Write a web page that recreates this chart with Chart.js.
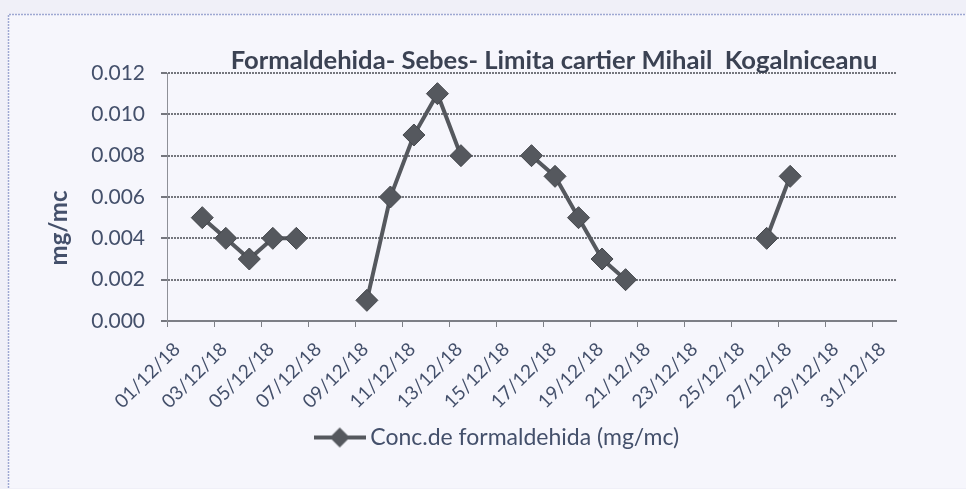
<!DOCTYPE html>
<html>
<head>
<meta charset="utf-8">
<script src="https://cdn.jsdelivr.net/npm/chart.js@4.4.0/dist/chart.umd.min.js"></script>
<style>
    html, body { margin: 0; padding: 0; background: #f0f0f8; }
    #wrap { width: 966px; height: 489px; }
</style>
</head>
<body>
<div id="wrap"><canvas id="chart" width="966" height="489"></canvas></div>
<script>
// zilele lunii (etichete axa X)
const dates = ['01/12/18', '02/12/18', '03/12/18', '04/12/18', '05/12/18', '06/12/18', '07/12/18', '08/12/18',
    '09/12/18', '10/12/18', '11/12/18', '12/12/18', '13/12/18', '14/12/18', '15/12/18', '16/12/18',
    '17/12/18', '18/12/18', '19/12/18', '20/12/18', '21/12/18', '22/12/18', '23/12/18', '24/12/18',
    '25/12/18', '26/12/18', '27/12/18', '28/12/18', '29/12/18', '30/12/18', '31/12/18'];

// concentratii (mg/mc), null = fara masuratoare
const conc = [null, 0.005, 0.004, 0.003, 0.004, 0.004, null, null,
    0.001, 0.006, 0.009, 0.011, 0.008, null, null, 0.008,
    0.007, 0.005, 0.003, 0.002, null, null, null, null,
    null, 0.004, 0.007, null, null, null, null];

const yTicks = [0, 0.002, 0.004, 0.006, 0.008, 0.010, 0.012];

const chartTitle = 'Formaldehida- Sebes- Limita cartier Mihail  Kogalniceanu';
const yTitle = 'mg/mc';
const seriesName = 'Conc.de formaldehida (mg/mc)';

const textColor = '#44506b';
const lineColor = '#55585e';

// simbol legenda: linie + romb
function legendSymbol() {
    const c = document.createElement('canvas');
    c.width = 52;
    c.height = 22;
    const g = c.getContext('2d');
    g.strokeStyle = lineColor;
    g.lineWidth = 4;
    g.beginPath();
    g.moveTo(0, 11);
    g.lineTo(52, 11);
    g.stroke();
    g.fillStyle = lineColor;
    g.beginPath();
    g.moveTo(26, 1);
    g.lineTo(36, 11);
    g.lineTo(26, 21);
    g.lineTo(16, 11);
    g.closePath();
    g.fill();
    return c;
}

const decor = {
    id: 'decor',
    beforeDraw(chart) {
        const ctx = chart.ctx;
        ctx.save();
        ctx.fillStyle = '#f6f6fc';
        ctx.fillRect(8, 14, chart.width - 8, chart.height - 15);
        ctx.strokeStyle = '#9ea8d2';
        ctx.lineWidth = 1.5;
        ctx.setLineDash([2, 1]);
        ctx.beginPath();
        ctx.moveTo(8.5, chart.height - 1);
        ctx.lineTo(8.5, 14.5);
        ctx.lineTo(chart.width, 14.5);
        ctx.stroke();
        ctx.restore();
    },
    afterDraw(chart) {
        const ctx = chart.ctx;
        ctx.save();
        ctx.fillStyle = '#3b4253';
        ctx.font = 'bold 25.6px Lato';
        ctx.textAlign = 'center';
        ctx.textBaseline = 'alphabetic';
        ctx.fillText(chartTitle, 554, 69);

        ctx.translate(59, 228);
        ctx.rotate(-Math.PI / 2);
        ctx.fillStyle = textColor;
        ctx.font = 'bold 24px Lato';
        ctx.textBaseline = 'middle';
        ctx.fillText(yTitle, 0, 0);
        ctx.restore();
    }
};

const ctx = document.getElementById('chart').getContext('2d');

new Chart(ctx, {
    type: 'line',
    data: {
        datasets: [{
            label: seriesName,
            data: conc.map((v, i) => ({x: i + 0.5, y: v})),
            borderColor: lineColor,
            backgroundColor: lineColor,
            borderWidth: 4,
            pointStyle: 'rectRot',
            pointRadius: 11,
            pointBorderWidth: 1,
            pointBorderColor: '#45484d',
            pointBackgroundColor: lineColor,
            spanGaps: false,
            tension: 0
        }]
    },
    options: {
        responsive: false,
        animation: false,
        layout: {
            padding: {left: 34, right: 0, top: 73, bottom: 30}
        },
        scales: {
            x: {
                type: 'linear',
                min: 0,
                max: 31,
                afterFit: (scale) => { scale.height = 95; },
                grid: {
                    drawOnChartArea: false,
                    drawTicks: true,
                    tickLength: 6,
                    color: '#7d7f86',
                    lineWidth: 1
                },
                border: {display: true, color: '#7d7f86', width: 2},
                ticks: {
                    stepSize: 2,
                    includeBounds: false,
                    autoSkip: false,
                    minRotation: 45,
                    maxRotation: 45,
                    padding: 11,
                    labelOffset: 10,
                    color: textColor,
                    font: {family: 'Lato', size: 19},
                    callback: (v) => dates[v]
                }
            },
            y: {
                min: 0,
                max: 0.012,
                afterFit: (scale) => { scale.width = 133; },
                afterBuildTicks: (scale) => {
                    scale.ticks = yTicks.map(v => ({value: v}));
                },
                grid: {
                    color: '#74767d',
                    lineWidth: 2,
                    tickLength: 6
                },
                border: {display: true, color: '#8e9097', width: 1, dash: [2, 1]},
                ticks: {
                    padding: 16,
                    color: textColor,
                    font: {family: 'Lato', size: 21},
                    callback: (v) => v.toFixed(3)
                }
            },
            // axa goala in dreapta, doar pentru spatiu
            yRight: {
                position: 'right',
                display: true,
                min: 0,
                max: 1,
                afterFit: (scale) => { scale.width = 70; },
                grid: {display: false},
                border: {display: false},
                ticks: {display: false}
            }
        },
        plugins: {
            legend: {
                position: 'bottom',
                labels: {
                    usePointStyle: true,
                    pointStyleWidth: 38,
                    boxHeight: 22,
                    padding: 10,
                    color: textColor,
                    font: {family: 'Lato', size: 23},
                    generateLabels: (chart) => [{
                        text: seriesName,
                        pointStyle: legendSymbol(),
                        fontColor: textColor,
                        lineWidth: 0,
                        datasetIndex: 0
                    }]
                }
            },
            tooltip: {enabled: false}
        }
    },
    plugins: [decor]
});
</script>
</body>
</html>
